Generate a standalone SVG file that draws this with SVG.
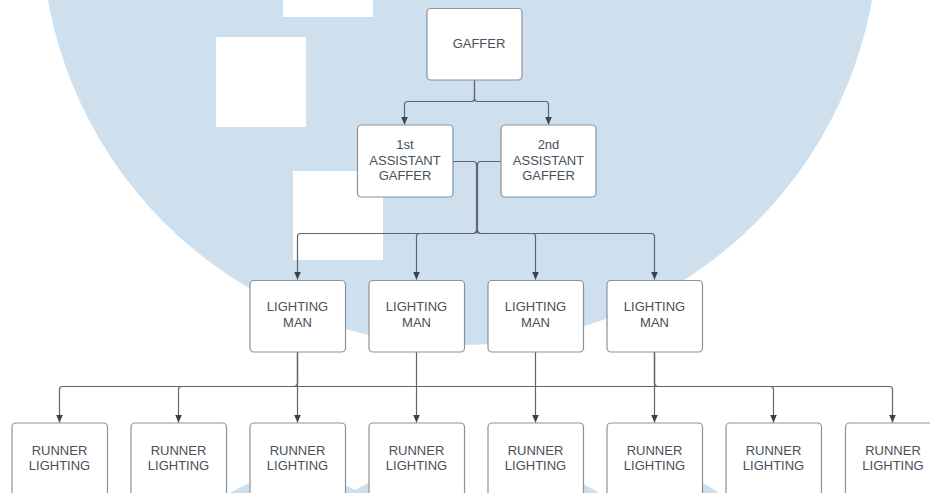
<svg xmlns="http://www.w3.org/2000/svg" width="930" height="493" viewBox="0 0 930 493">
<defs>
<style>
.bg{fill:#cedfee}
.sq{fill:#ffffff}
.box{fill:#ffffff;stroke:#8d9199;stroke-width:1.2}
.lbl{font-family:"Liberation Sans",Arial,sans-serif;font-size:13px;fill:#4a4f58;text-anchor:middle}
.con{fill:none;stroke:#5f6570;stroke-width:1.2;marker-end:url(#arr)}
</style>
<marker id="arr" viewBox="0 0 8 7" refX="8" refY="3.5" markerWidth="8" markerHeight="7" markerUnits="userSpaceOnUse" orient="auto">
<path d="M0,0 L8,3.5 L0,7 Z" fill="#3b414c"/>
</marker>
</defs>
<rect width="930" height="493" fill="#ffffff"/>
<g id="background">
<circle class="bg" cx="460" cy="-73.5" r="418.5"/>
<circle class="bg" cx="295" cy="600" r="125.2"/>
<circle class="bg" cx="400" cy="560" r="83"/>
<circle class="bg" cx="550" cy="560" r="82.9"/>
<circle class="bg" cx="665" cy="560" r="85.9"/>
<rect class="sq" x="283" y="-73" width="90" height="90"/>
<rect class="sq" x="216" y="37" width="90" height="90"/>
<rect class="sq" x="293" y="171" width="90" height="89"/>
</g>
<g id="connectors">
<path class="con" d="M474.5,80 V98.5 Q474.5,101.5 471.5,101.5 H407.5 Q404.5,101.5 404.5,104.5 V124.5"/>
<path class="con" d="M474.5,80 V98.5 Q474.5,101.5 477.5,101.5 H545.5 Q548.5,101.5 548.5,104.5 V124.5"/>
<path fill="none" stroke="#5f6570" stroke-width="1.2" d="M453,161.5 H473.5 Q476.5,161.5 476.5,164.5 V233"/>
<path fill="none" stroke="#5f6570" stroke-width="1.2" d="M501,161.5 H480.5 Q477.5,161.5 477.5,164.5 V233"/>
<path class="con" d="M476.5,230.5 Q476.5,233.5 473.5,233.5 H300.5 Q297.5,233.5 297.5,236.5 V279.5"/>
<path class="con" d="M476.5,230.5 Q476.5,233.5 473.5,233.5 H419.5 Q416.5,233.5 416.5,236.5 V279.5"/>
<path class="con" d="M477.5,230.5 Q477.5,233.5 480.5,233.5 H532.5 Q535.5,233.5 535.5,236.5 V279.5"/>
<path class="con" d="M477.5,230.5 Q477.5,233.5 480.5,233.5 H651.5 Q654.5,233.5 654.5,236.5 V279.5"/>
<path class="con" d="M297.5,352 V383.5 Q297.5,386.5 294.5,386.5 H62.5 Q59.5,386.5 59.5,389.5 V422.5"/>
<path class="con" d="M297.5,352 V383.5 Q297.5,386.5 294.5,386.5 H181.5 Q178.5,386.5 178.5,389.5 V422.5"/>
<path class="con" d="M297.5,352 V422.5"/>
<path class="con" d="M416.5,352 V422.5"/>
<path class="con" d="M535.5,352 V422.5"/>
<path class="con" d="M654.5,352 V422.5"/>
<path fill="none" stroke="#5f6570" stroke-width="1.2" d="M297.5,386.5 H654.5"/>
<path class="con" d="M654.5,352 V383.5 Q654.5,386.5 657.5,386.5 H770.5 Q773.5,386.5 773.5,389.5 V422.5"/>
<path class="con" d="M654.5,352 V383.5 Q654.5,386.5 657.5,386.5 H889.5 Q892.5,386.5 892.5,389.5 V422.5"/>
</g>
<g id="gaffer">
<rect class="box" x="427" y="8.5" width="95" height="71.5" rx="4"/>
<text class="lbl" x="479" y="47.5">GAFFER</text>
</g>
<g id="assistant1">
<rect class="box" x="357.5" y="125" width="95.5" height="72" rx="4"/>
<text class="lbl" x="405" y="148.5">1st</text>
<text class="lbl" x="405" y="164.5">ASSISTANT</text>
<text class="lbl" x="405" y="180">GAFFER</text>
</g>
<g id="assistant2">
<rect class="box" x="501" y="125" width="95" height="72" rx="4"/>
<text class="lbl" x="548.5" y="148.5">2nd</text>
<text class="lbl" x="548.5" y="164.5">ASSISTANT</text>
<text class="lbl" x="548.5" y="180">GAFFER</text>
</g>
<g id="lighting1">
<rect class="box" x="250" y="280.5" width="95.5" height="71.5" rx="4"/>
<text class="lbl" x="297.5" y="310.5">LIGHTING</text>
<text class="lbl" x="297.5" y="326.5">MAN</text>
</g>
<g id="lighting2">
<rect class="box" x="369" y="280.5" width="95.5" height="71.5" rx="4"/>
<text class="lbl" x="416.5" y="310.5">LIGHTING</text>
<text class="lbl" x="416.5" y="326.5">MAN</text>
</g>
<g id="lighting3">
<rect class="box" x="488" y="280.5" width="95.5" height="71.5" rx="4"/>
<text class="lbl" x="535.5" y="310.5">LIGHTING</text>
<text class="lbl" x="535.5" y="326.5">MAN</text>
</g>
<g id="lighting4">
<rect class="box" x="607" y="280.5" width="95.5" height="71.5" rx="4"/>
<text class="lbl" x="654.5" y="310.5">LIGHTING</text>
<text class="lbl" x="654.5" y="326.5">MAN</text>
</g>
<g id="runner1"><rect class="box" x="12" y="423" width="95.5" height="76" rx="4"/><text class="lbl" x="59.5" y="454.5">RUNNER</text><text class="lbl" x="59.5" y="469.5">LIGHTING</text></g>
<g id="runner2"><rect class="box" x="131" y="423" width="95.5" height="76" rx="4"/><text class="lbl" x="178.5" y="454.5">RUNNER</text><text class="lbl" x="178.5" y="469.5">LIGHTING</text></g>
<g id="runner3"><rect class="box" x="250" y="423" width="95.5" height="76" rx="4"/><text class="lbl" x="297.5" y="454.5">RUNNER</text><text class="lbl" x="297.5" y="469.5">LIGHTING</text></g>
<g id="runner4"><rect class="box" x="369" y="423" width="95.5" height="76" rx="4"/><text class="lbl" x="416.5" y="454.5">RUNNER</text><text class="lbl" x="416.5" y="469.5">LIGHTING</text></g>
<g id="runner5"><rect class="box" x="488" y="423" width="95.5" height="76" rx="4"/><text class="lbl" x="535.5" y="454.5">RUNNER</text><text class="lbl" x="535.5" y="469.5">LIGHTING</text></g>
<g id="runner6"><rect class="box" x="607" y="423" width="95.5" height="76" rx="4"/><text class="lbl" x="654.5" y="454.5">RUNNER</text><text class="lbl" x="654.5" y="469.5">LIGHTING</text></g>
<g id="runner7"><rect class="box" x="726" y="423" width="95.5" height="76" rx="4"/><text class="lbl" x="773.5" y="454.5">RUNNER</text><text class="lbl" x="773.5" y="469.5">LIGHTING</text></g>
<g id="runner8"><rect class="box" x="845.5" y="423" width="95.5" height="76" rx="4"/><text class="lbl" x="893" y="454.5">RUNNER</text><text class="lbl" x="893" y="469.5">LIGHTING</text></g>
</svg>
